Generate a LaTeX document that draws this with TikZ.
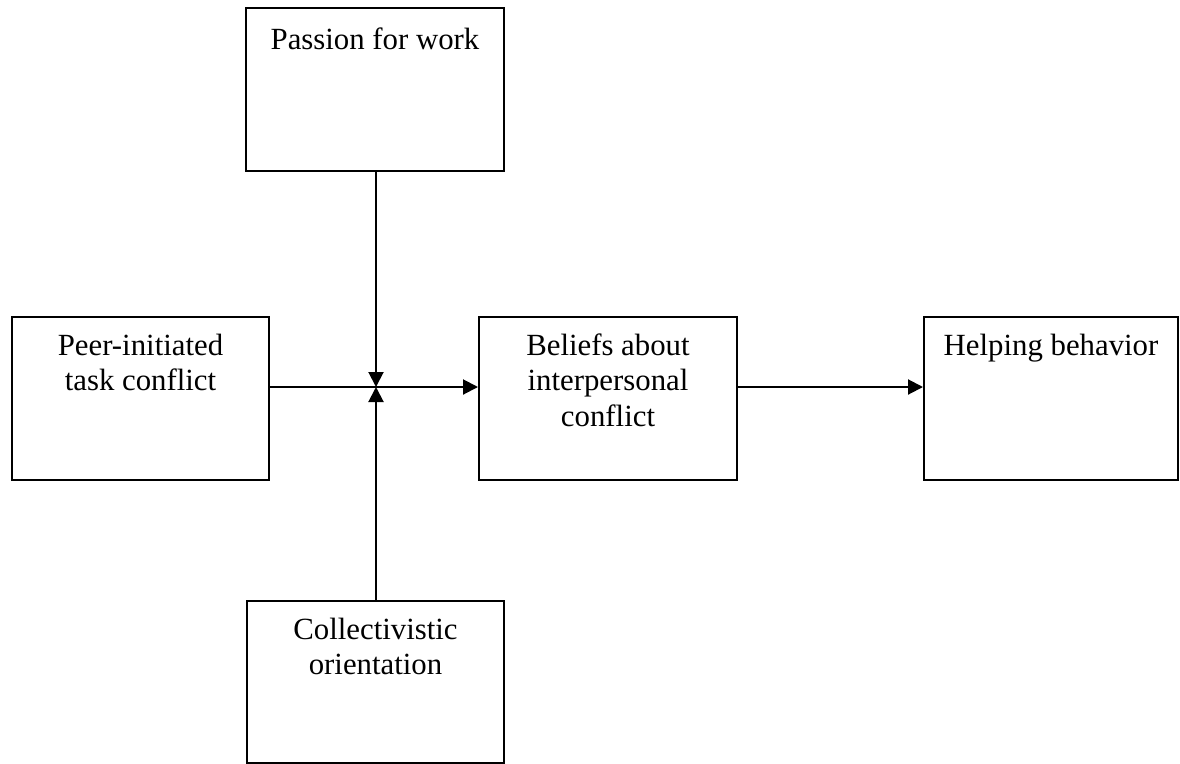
\documentclass[tikz,border=0pt]{standalone}
\usepackage{fontspec}
\setmainfont{Liberation Serif}
\usetikzlibrary{arrows.meta}
\newcommand{\boxtext}[4]{\parbox[t][#2][t]{#1}{\centering\rule{0pt}{#3}#4}}
\begin{document}
\begin{tikzpicture}[x=1pt,y=-1pt,
  box/.style={draw, line width=2pt, inner sep=0pt, anchor=north west,
    font=\fontsize{30.8pt}{35.5pt}\selectfont},
  conn/.style={line width=2pt},
  arr/.style={conn, -{Triangle[length=15pt,width=15pt]}}]
\useasboundingbox (0,0) rectangle (1180,763);
\node[box] (passion) at (245,7) {\boxtext{258pt}{163pt}{41pt}{Passion for work}};
\node[box] (peer) at (11,316) {\boxtext{257pt}{163pt}{38pt}{Peer-initiated\\task conflict}};
\node[box] (beliefs) at (478,316) {\boxtext{258pt}{163pt}{38pt}{Beliefs about\\interpersonal\\conflict}};
\node[box] (helping) at (923,316) {\boxtext{254pt}{163pt}{38pt}{Helping behavior}};
\node[box] (collect) at (246,600) {\boxtext{257pt}{162pt}{38pt}{Collectivistic\\orientation}};
\coordinate (J) at (376,387);
\draw[arr] (J -| peer.east) -- (J -| beliefs.west);
\draw[arr] (passion.south -| J) -- (J);
\draw[arr] (collect.north -| J) -- (J);
\draw[arr] (J -| beliefs.east) -- (J -| helping.west);
\end{tikzpicture}
\end{document}
